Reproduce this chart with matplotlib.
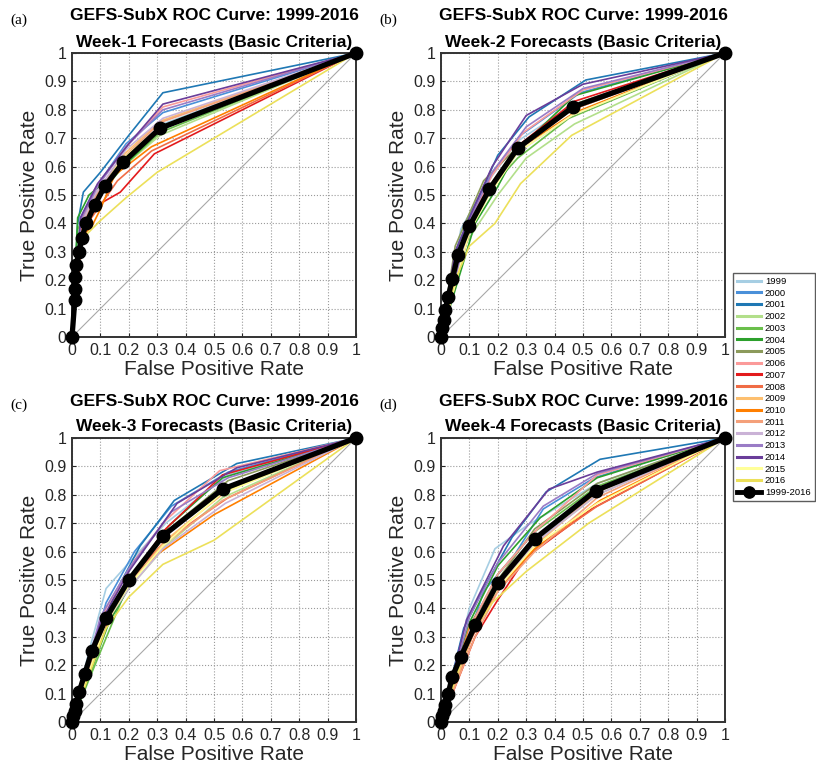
import numpy as np
import matplotlib.pyplot as plt
from matplotlib.lines import Line2D

plt.rcParams['font.family'] = ['Liberation Sans', 'DejaVu Sans']

years = ['1999', '2000', '2001', '2002', '2003', '2004', '2005', '2006', '2007',
         '2008', '2009', '2010', '2011', '2012', '2013', '2014', '2015', '2016']
year_colors = ['#a6cee3', '#4a90d9', '#1f78b4', '#b2df8a', '#6abf4b', '#2ca02c',
               '#8c9a5b', '#fb9a99', '#e31a1c', '#f06c45', '#fdbf6f', '#ff7f00',
               '#f4a07a', '#cab2d6', '#9a7cc6', '#6a3d9a', '#ffff99', '#ece05a']
ticks = [0, 0.1, 0.2, 0.3, 0.4, 0.5, 0.6, 0.7, 0.8, 0.9, 1]
tick_labels = ['0', '0.1', '0.2', '0.3', '0.4', '0.5', '0.6', '0.7', '0.8', '0.9', '1']

# ---- Week 1 ----
w1_fpr = [
    [0, 0.03, 0.08, 0.18, 0.32, 1],
    [0, 0.03, 0.08, 0.19, 0.32, 1],
    [0, 0.02, 0.04, 0.10, 0.20, 0.32, 1],
    [0, 0.03, 0.08, 0.18, 0.31, 1],
    [0, 0.02, 0.07, 0.18, 0.31, 1],
    [0, 0.02, 0.06, 0.17, 0.31, 1],
    [0, 0.03, 0.07, 0.17, 0.31, 1],
    [0, 0.03, 0.08, 0.19, 0.32, 1],
    [0, 0.03, 0.07, 0.10, 0.17, 0.29, 1],
    [0, 0.04, 0.09, 0.16, 0.28, 1],
    [0, 0.03, 0.08, 0.18, 0.31, 1],
    [0, 0.03, 0.07, 0.10, 0.15, 0.28, 1],
    [0, 0.03, 0.08, 0.18, 0.31, 1],
    [0, 0.03, 0.08, 0.19, 0.32, 1],
    [0, 0.03, 0.09, 0.19, 0.32, 1],
    [0, 0.03, 0.09, 0.20, 0.32, 1],
    [0, 0.03, 0.08, 0.17, 0.31, 1],
    [0, 0.02, 0.05, 0.10, 0.19, 0.30, 1],
]
w1_tpr = [
    [0, 0.40, 0.50, 0.63, 0.75, 1],
    [0, 0.42, 0.52, 0.68, 0.79, 1],
    [0, 0.40, 0.51, 0.58, 0.71, 0.86, 1],
    [0, 0.38, 0.48, 0.60, 0.71, 1],
    [0, 0.38, 0.47, 0.60, 0.72, 1],
    [0, 0.42, 0.50, 0.59, 0.73, 1],
    [0, 0.39, 0.48, 0.60, 0.74, 1],
    [0, 0.40, 0.52, 0.67, 0.81, 1],
    [0, 0.37, 0.45, 0.47, 0.51, 0.645, 1],
    [0, 0.38, 0.45, 0.55, 0.655, 1],
    [0, 0.38, 0.50, 0.64, 0.76, 1],
    [0, 0.35, 0.39, 0.45, 0.57, 0.67, 1],
    [0, 0.38, 0.49, 0.63, 0.755, 1],
    [0, 0.39, 0.50, 0.66, 0.77, 1],
    [0, 0.41, 0.53, 0.67, 0.80, 1],
    [0, 0.42, 0.54, 0.68, 0.82, 1],
    [0, 0.36, 0.48, 0.62, 0.74, 1],
    [0, 0.30, 0.36, 0.41, 0.49, 0.58, 1],
]
w1_mean_fpr = [0, 0.01, 0.01, 0.01, 0.015, 0.025, 0.035, 0.05, 0.08, 0.115, 0.18, 0.31, 1]
w1_mean_tpr = [0, 0.13, 0.17, 0.21, 0.255, 0.30, 0.35, 0.40, 0.465, 0.53, 0.615, 0.735, 1]

# ---- Week 2 ----
w2_fpr = [
    [0, 0.07, 0.16, 0.27, 0.47, 1],
    [0, 0.09, 0.17, 0.28, 0.49, 1],
    [0, 0.05, 0.10, 0.20, 0.31, 0.51, 1],
    [0, 0.07, 0.12, 0.20, 0.30, 0.47, 1],
    [0, 0.10, 0.18, 0.27, 0.45, 1],
    [0, 0.12, 0.20, 0.27, 0.47, 1],
    [0, 0.05, 0.15, 0.27, 0.47, 1],
    [0, 0.10, 0.18, 0.29, 0.50, 1],
    [0, 0.06, 0.10, 0.18, 0.28, 0.47, 1],
    [0, 0.10, 0.17, 0.26, 0.46, 1],
    [0, 0.10, 0.17, 0.27, 0.47, 1],
    [0, 0.10, 0.17, 0.27, 0.47, 1],
    [0, 0.10, 0.17, 0.26, 0.46, 1],
    [0, 0.10, 0.17, 0.27, 0.46, 1],
    [0, 0.10, 0.18, 0.30, 0.50, 1],
    [0, 0.05, 0.10, 0.18, 0.30, 0.50, 1],
    [0, 0.10, 0.17, 0.27, 0.46, 1],
    [0, 0.05, 0.10, 0.19, 0.28, 0.46, 1],
]
w2_tpr = [
    [0, 0.38, 0.54, 0.69, 0.82, 1],
    [0, 0.41, 0.56, 0.71, 0.86, 1],
    [0, 0.30, 0.42, 0.64, 0.775, 0.905, 1],
    [0, 0.30, 0.38, 0.50, 0.63, 0.75, 1],
    [0, 0.37, 0.53, 0.63, 0.77, 1],
    [0, 0.40, 0.53, 0.66, 0.85, 1],
    [0, 0.32, 0.55, 0.67, 0.82, 1],
    [0, 0.40, 0.57, 0.72, 0.87, 1],
    [0, 0.25, 0.38, 0.54, 0.68, 0.83, 1],
    [0, 0.37, 0.52, 0.66, 0.80, 1],
    [0, 0.40, 0.53, 0.67, 0.81, 1],
    [0, 0.39, 0.53, 0.66, 0.79, 1],
    [0, 0.38, 0.51, 0.65, 0.80, 1],
    [0, 0.39, 0.51, 0.65, 0.78, 1],
    [0, 0.41, 0.58, 0.74, 0.875, 1],
    [0, 0.30, 0.42, 0.60, 0.78, 0.89, 1],
    [0, 0.37, 0.50, 0.65, 0.78, 1],
    [0, 0.20, 0.32, 0.40, 0.54, 0.71, 1],
]
w2_mean_fpr = [0, 0.005, 0.01, 0.015, 0.025, 0.04, 0.06, 0.10, 0.17, 0.27, 0.465, 1]
w2_mean_tpr = [0, 0.03, 0.06, 0.095, 0.14, 0.205, 0.29, 0.39, 0.52, 0.665, 0.81, 1]

# ---- Week 3 ----
w3_fpr = [
    [0, 0.06, 0.12, 0.20, 0.33, 0.55, 1],
    [0, 0.12, 0.22, 0.35, 0.55, 1],
    [0, 0.07, 0.15, 0.24, 0.36, 0.58, 1],
    [0, 0.12, 0.20, 0.33, 0.53, 1],
    [0, 0.06, 0.13, 0.20, 0.33, 0.53, 1],
    [0, 0.13, 0.22, 0.34, 0.53, 1],
    [0, 0.12, 0.20, 0.33, 0.55, 1],
    [0, 0.12, 0.22, 0.33, 0.52, 1],
    [0, 0.12, 0.20, 0.33, 0.53, 1],
    [0, 0.12, 0.20, 0.33, 0.55, 1],
    [0, 0.12, 0.20, 0.33, 0.54, 1],
    [0, 0.12, 0.20, 0.30, 0.50, 1],
    [0, 0.11, 0.20, 0.33, 0.53, 1],
    [0, 0.12, 0.20, 0.32, 0.54, 1],
    [0, 0.10, 0.20, 0.35, 0.55, 1],
    [0, 0.10, 0.20, 0.37, 0.58, 1],
    [0, 0.12, 0.20, 0.32, 0.52, 1],
    [0, 0.12, 0.20, 0.32, 0.50, 1],
]
w3_tpr = [
    [0, 0.25, 0.47, 0.56, 0.70, 0.87, 1],
    [0, 0.42, 0.60, 0.76, 0.88, 1],
    [0, 0.25, 0.45, 0.62, 0.78, 0.91, 1],
    [0, 0.34, 0.47, 0.62, 0.79, 1],
    [0, 0.15, 0.32, 0.49, 0.66, 0.81, 1],
    [0, 0.35, 0.51, 0.69, 0.86, 1],
    [0, 0.37, 0.50, 0.67, 0.85, 1],
    [0, 0.40, 0.57, 0.71, 0.885, 1],
    [0, 0.34, 0.50, 0.68, 0.87, 1],
    [0, 0.36, 0.50, 0.64, 0.79, 1],
    [0, 0.36, 0.48, 0.64, 0.81, 1],
    [0, 0.36, 0.50, 0.59, 0.73, 1],
    [0, 0.36, 0.49, 0.63, 0.78, 1],
    [0, 0.35, 0.47, 0.61, 0.77, 1],
    [0, 0.37, 0.54, 0.74, 0.86, 1],
    [0, 0.35, 0.53, 0.77, 0.895, 1],
    [0, 0.35, 0.48, 0.62, 0.80, 1],
    [0, 0.33, 0.44, 0.555, 0.64, 1],
]
w3_mean_fpr = [0, 0.005, 0.01, 0.015, 0.025, 0.045, 0.07, 0.12, 0.20, 0.32, 0.53, 1]
w3_mean_tpr = [0, 0.02, 0.04, 0.065, 0.105, 0.17, 0.25, 0.365, 0.50, 0.655, 0.82, 1]

# ---- Week 4 ----
w4_fpr = [
    [0, 0.10, 0.19, 0.30, 0.55, 1],
    [0, 0.15, 0.26, 0.36, 0.54, 1],
    [0, 0.08, 0.15, 0.25, 0.37, 0.56, 1],
    [0, 0.10, 0.20, 0.33, 0.55, 1],
    [0, 0.10, 0.20, 0.33, 0.55, 1],
    [0, 0.10, 0.20, 0.35, 0.55, 1],
    [0, 0.10, 0.20, 0.33, 0.55, 1],
    [0, 0.10, 0.20, 0.33, 0.55, 1],
    [0, 0.12, 0.20, 0.30, 0.53, 1],
    [0, 0.11, 0.19, 0.32, 0.55, 1],
    [0, 0.12, 0.20, 0.33, 0.55, 1],
    [0, 0.10, 0.20, 0.33, 0.56, 1],
    [0, 0.12, 0.20, 0.33, 0.55, 1],
    [0, 0.10, 0.20, 0.33, 0.55, 1],
    [0, 0.10, 0.20, 0.36, 0.55, 1],
    [0, 0.09, 0.22, 0.38, 0.55, 1],
    [0, 0.10, 0.20, 0.33, 0.55, 1],
    [0, 0.10, 0.18, 0.30, 0.52, 1],
]
w4_tpr = [
    [0, 0.40, 0.61, 0.69, 0.84, 1],
    [0, 0.46, 0.59, 0.75, 0.86, 1],
    [0, 0.33, 0.47, 0.65, 0.81, 0.925, 1],
    [0, 0.32, 0.48, 0.63, 0.80, 1],
    [0, 0.33, 0.52, 0.67, 0.83, 1],
    [0, 0.35, 0.55, 0.72, 0.86, 1],
    [0, 0.34, 0.50, 0.68, 0.84, 1],
    [0, 0.33, 0.52, 0.67, 0.87, 1],
    [0, 0.30, 0.43, 0.58, 0.75, 1],
    [0, 0.30, 0.45, 0.60, 0.76, 1],
    [0, 0.33, 0.48, 0.62, 0.81, 1],
    [0, 0.33, 0.47, 0.61, 0.78, 1],
    [0, 0.30, 0.46, 0.60, 0.79, 1],
    [0, 0.32, 0.47, 0.63, 0.80, 1],
    [0, 0.37, 0.56, 0.76, 0.875, 1],
    [0, 0.36, 0.62, 0.82, 0.88, 1],
    [0, 0.31, 0.47, 0.62, 0.77, 1],
    [0, 0.30, 0.42, 0.53, 0.70, 1],
]
w4_mean_fpr = [0, 0.005, 0.01, 0.015, 0.025, 0.04, 0.07, 0.12, 0.20, 0.33, 0.545, 1]
w4_mean_tpr = [0, 0.02, 0.04, 0.06, 0.10, 0.16, 0.23, 0.34, 0.49, 0.645, 0.815, 1]

panels = [
    ('(a)', 'Week-1', w1_fpr, w1_tpr, w1_mean_fpr, w1_mean_tpr),
    ('(b)', 'Week-2', w2_fpr, w2_tpr, w2_mean_fpr, w2_mean_tpr),
    ('(c)', 'Week-3', w3_fpr, w3_tpr, w3_mean_fpr, w3_mean_tpr),
    ('(d)', 'Week-4', w4_fpr, w4_tpr, w4_mean_fpr, w4_mean_tpr),
]

W, H = 816, 774
fig = plt.figure(figsize=(W / 100, H / 100), dpi=100)

# axes boxes in pixels: left, top
boxes = [(72, 53), (441, 53), (72, 438), (441, 438)]
size = 284

for (lbl, week, fpr, tpr, mfpr, mtpr), (left, top) in zip(panels, boxes):
    ax = fig.add_axes([left / W, (H - top - size) / H, size / W, size / H])
    ax.plot([0, 1], [0, 1], color='#a8a8a8', lw=0.8, zorder=1)
    for i in range(len(years)):
        ax.plot(fpr[i], tpr[i], color=year_colors[i], lw=1.2, zorder=2, label=years[i])
    ax.plot(mfpr, mtpr, color='black', lw=3.8, marker='o', ms=9, zorder=3,
            label='1999-2016', clip_on=False)
    ax.set_xlim(0, 1)
    ax.set_ylim(0, 1)
    ax.set_xticks(ticks)
    ax.set_yticks(ticks)
    ax.set_xticklabels(tick_labels)
    ax.set_yticklabels(tick_labels)
    ax.tick_params(direction='in', length=3, labelsize=11.5, colors='#262626', pad=4)
    ax.grid(True, linestyle=':', color='#9a9a9a', lw=0.8)
    ax.set_axisbelow(True)
    for s in ax.spines.values():
        s.set_linewidth(1.4)
        s.set_color('#333333')
    ax.set_xlabel('False Positive Rate', fontsize=15, color='#262626', labelpad=2)
    ax.set_ylabel('True Positive Rate', fontsize=15, color='#262626', labelpad=4)

    cx = (left + size / 2) / W
    fig.text(cx, 1 - (top - 37) / H, 'GEFS-SubX ROC Curve: 1999-2016', ha='center',
             va='center', fontsize=12.5, fontweight='bold')
    fig.text(cx, 1 - (top - 11) / H, week + ' Forecasts (Basic Criteria)', ha='center',
             va='center', fontsize=12.5, fontweight='bold')
    fig.text((left - 62) / W, 1 - (top - 33) / H, lbl, ha='left', va='center',
             fontsize=11, family='Liberation Serif')
    if lbl == '(a)':
        handles, labels = ax.get_legend_handles_labels()

leg = fig.legend(handles, labels, loc='center',
                 bbox_to_anchor=(774 / W, 1 - 387 / H), fontsize=6.8, frameon=True,
                 fancybox=False, edgecolor='#333333', handlelength=2.5,
                 labelspacing=0.29, handletextpad=0.4, borderpad=0.45,
                 borderaxespad=0, markerscale=0.9)
leg.get_frame().set_linewidth(1.0)
for line in leg.get_lines():
    line.set_linewidth(2.2)
leg.get_lines()[-1].set_linewidth(3.5)

fig.savefig('out.png', dpi=100)
